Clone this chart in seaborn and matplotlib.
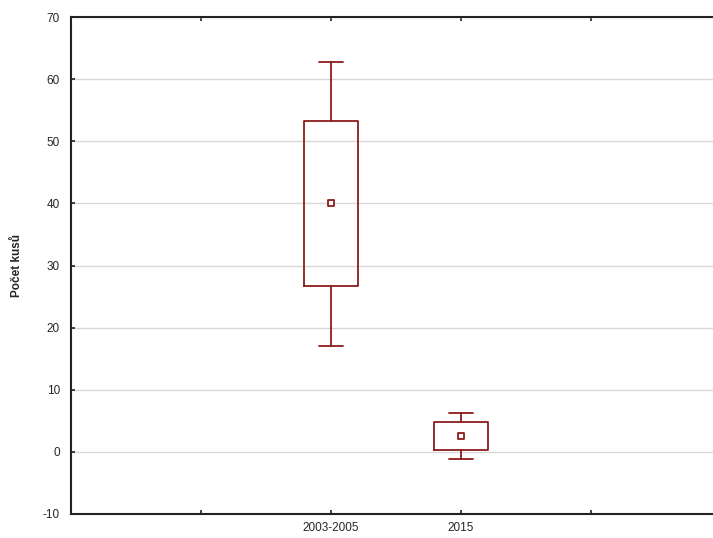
import matplotlib
matplotlib.use("Agg")
import matplotlib.pyplot as plt
import pandas as pd
import seaborn as sns

# values (mean, box = +-SE, whiskers = +-SD style)
periods = ['2003-2005', '2015']
means = [40.0, 2.6]
box_low = [26.7, 0.3]
box_high = [53.3, 4.8]
whisk_low = [17.0, -1.2]
whisk_high = [62.8, 6.3]
positions = [2, 3]

y_ticks = [-10, 0, 10, 20, 30, 40, 50, 60, 70]
x_tick_pos = [1, 2, 3, 4]
x_tick_labels = ['', '2003-2005', '2015', '']

red = '#8b1c1c'

sns.set_style('white')
plt.rcParams['font.family'] = ['Liberation Sans', 'DejaVu Sans']

df = pd.DataFrame({'pos': positions, 'mean': means})

fig = plt.figure(figsize=(7.13, 5.38), dpi=100)
# right part of the plot frame runs off the image like in the reference
ax = fig.add_axes([71 / 713, 24 / 538, 650 / 713, 497 / 538])

stats = []
for i, p in enumerate(periods):
    stats.append({
        'label': p,
        'med': means[i],
        'q1': box_low[i],
        'q3': box_high[i],
        'whislo': whisk_low[i],
        'whishi': whisk_high[i],
        'fliers': [],
    })

ax.bxp(stats, positions=positions, widths=0.42, capwidths=0.19,
       showfliers=False, showcaps=True, manage_ticks=False,
       boxprops=dict(color=red, linewidth=1.3),
       whiskerprops=dict(color=red, linewidth=1.3),
       capprops=dict(color=red, linewidth=1.3),
       medianprops=dict(linewidth=0))

sns.scatterplot(data=df, x='pos', y='mean', marker='s', s=22,
                facecolor='white', edgecolor=red, linewidth=1.3,
                ax=ax, zorder=5, legend=False)

ax.set_xlim(0, 5)
ax.set_ylim(-10, 70)
ax.set_yticks(y_ticks)
ax.set_yticklabels([str(t) for t in y_ticks], fontsize=8.5)
ax.set_xticks(x_tick_pos)
ax.set_xticklabels(x_tick_labels, fontsize=8.5)
ax.set_xlabel('')
ax.set_ylabel('Počet kusů', fontsize=8.5, fontweight='bold', labelpad=14)

ax.yaxis.grid(True, color='#d8d8d8', linewidth=1)
ax.xaxis.grid(False)
ax.set_axisbelow(True)

for side in ['left', 'bottom', 'top']:
    ax.spines[side].set_color('#222222')
    ax.spines[side].set_linewidth(1.5)
ax.spines['right'].set_visible(False)

ax.tick_params(axis='both', direction='in', length=3, width=1.2,
               color='#222222', top=True, left=True, bottom=True, pad=8)
ax.tick_params(axis='x', pad=6)

fig.savefig('out.png', dpi=100)
